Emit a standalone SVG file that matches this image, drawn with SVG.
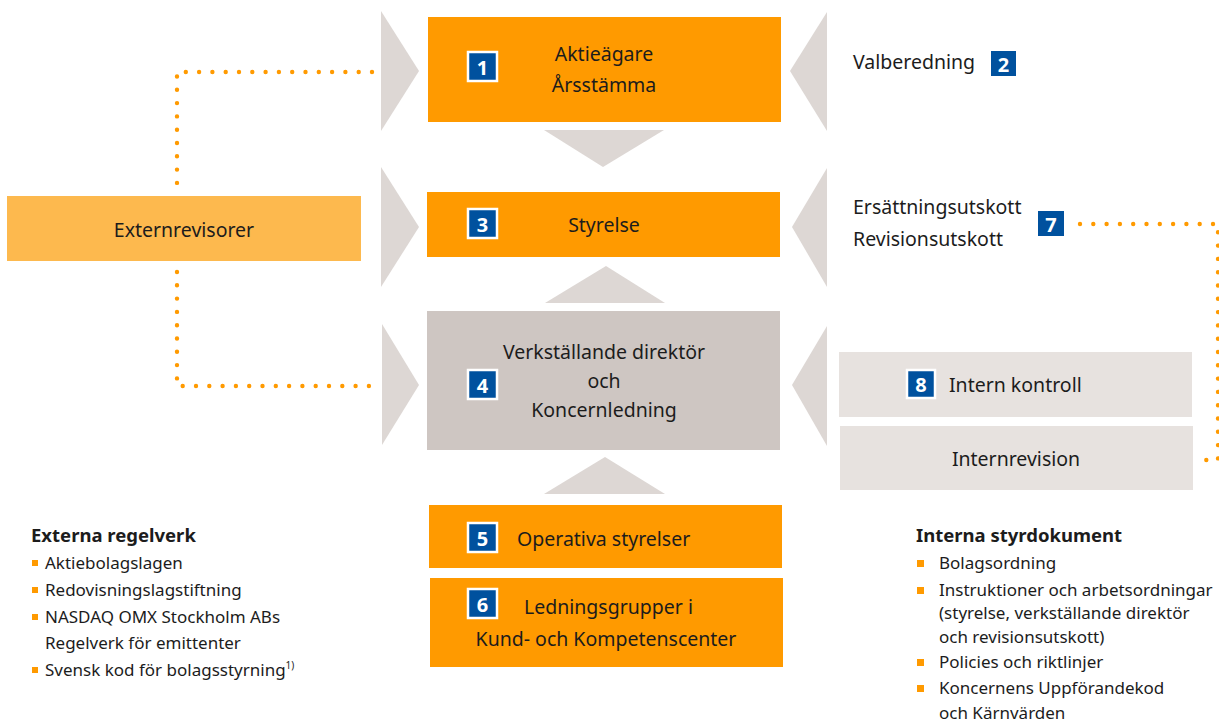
<svg xmlns="http://www.w3.org/2000/svg" width="1219" height="722" viewBox="0 0 1219 722">
<style>
.t{font-family:"Noto Sans","Liberation Sans",sans-serif;font-size:19.5px;fill:#1c1c1c}
.c{text-anchor:middle}
.h{font-family:"Noto Sans","Liberation Sans",sans-serif;font-size:18.5px;font-weight:bold;fill:#1c1c1c}
.l{font-family:"Noto Sans","Liberation Sans",sans-serif;font-size:17px;fill:#1c1c1c}
.or{fill:#FF9A00}
.tri{fill:#DDD7D4}
.lg{fill:#E7E2DF}
.bd{fill:#00519E;stroke:#fff;stroke-width:2.5}
.bn{font-family:"Noto Sans","Liberation Sans",sans-serif;font-size:20px;font-weight:bold;fill:#fff;text-anchor:middle}
.dot{fill:none;stroke:#FF9A00;stroke-width:4.4;stroke-linecap:round;stroke-dasharray:0 13.3}
.bul{fill:#FF9A00}
</style>
<g id="connectors">
<polygon class="tri" points="381,11 419,71 381,131"/>
<polygon class="tri" points="381,167 419,227 381,287"/>
<polygon class="tri" points="382,324 419,385 382,445"/>
<polygon class="tri" points="827,12 790,71 827,131"/>
<polygon class="tri" points="827,168 792,227 827,287"/>
<polygon class="tri" points="827,326 792,385 827,446"/>
<polygon class="tri" points="544,130 664,130 603,167"/>
<polygon class="tri" points="545,303 665,303 606,266"/>
<polygon class="tri" points="544,494 665,494 605,457"/>
<path class="dot" d="M372,72 H177 V192"/>
<path class="dot" d="M177,272 V386 H372"/>
<path class="dot" d="M1080,224 H1218 V460 H1197"/>
</g>
<g id="n1">
<rect class="or" x="428" y="17" width="353" height="105"/>
<rect class="bd" x="468" y="52" width="29" height="29"/>
<text class="bn" x="482.5" y="75">1</text>
<text class="t c" x="604" y="61">Aktieägare</text>
<text class="t c" x="604" y="92">Årsstämma</text>
</g>
<g id="n2">
<text class="t" x="853" y="69">Valberedning</text>
<rect fill="#00519E" x="991" y="51" width="25" height="25"/>
<text class="bn" x="1003.5" y="72">2</text>
</g>
<g id="n3">
<rect class="or" x="427" y="192" width="353" height="65"/>
<rect class="bd" x="468" y="209" width="29" height="29"/>
<text class="bn" x="482.5" y="232">3</text>
<text class="t c" x="604" y="232">Styrelse</text>
</g>
<g id="n4">
<rect fill="#CEC6C2" x="427" y="311" width="353" height="139"/>
<rect class="bd" x="468" y="370" width="29" height="29"/>
<text class="bn" x="482.5" y="393">4</text>
<text class="t c" x="604" y="359">Verkställande direktör</text>
<text class="t c" x="604" y="388">och</text>
<text class="t c" x="604" y="417">Koncernledning</text>
</g>
<g id="n5">
<rect class="or" x="429" y="505" width="353" height="63"/>
<rect class="bd" x="468" y="523" width="29" height="29"/>
<text class="bn" x="482.5" y="546">5</text>
<text class="t" x="517" y="546">Operativa styrelser</text>
</g>
<g id="n6">
<rect class="or" x="430" y="578" width="353" height="89"/>
<rect class="bd" x="468" y="589" width="29" height="29"/>
<text class="bn" x="482.5" y="612">6</text>
<text class="t" x="524" y="614">Ledningsgrupper i</text>
<text class="t c" x="606" y="646">Kund- och Kompetenscenter</text>
</g>
<g id="n7">
<text class="t" x="853" y="214">Ersättningsutskott</text>
<text class="t" x="853" y="246">Revisionsutskott</text>
<rect fill="#00519E" x="1038" y="211" width="26" height="25"/>
<text class="bn" x="1051" y="232">7</text>
</g>
<g id="n8">
<rect class="lg" x="839" y="352" width="353" height="65"/>
<rect class="bd" x="907" y="370" width="28" height="28"/>
<text class="bn" x="921" y="392">8</text>
<text class="t" x="949" y="392">Intern kontroll</text>
</g>
<g id="internrevision">
<rect class="lg" x="840" y="426" width="353" height="64"/>
<text class="t c" x="1016" y="466">Internrevision</text>
</g>
<g id="externrevisorer">
<rect fill="#FDB94E" x="7" y="196" width="354" height="65"/>
<text class="t c" x="184" y="237">Externrevisorer</text>
</g>
<g id="externa">
<text class="h" x="31" y="542">Externa regelverk</text>
<rect class="bul" x="32" y="560" width="6" height="6"/>
<text class="l" x="45" y="569">Aktiebolagslagen</text>
<rect class="bul" x="32" y="587" width="6" height="6"/>
<text class="l" x="45" y="596">Redovisningslagstiftning</text>
<rect class="bul" x="32" y="614" width="6" height="6"/>
<text class="l" x="45" y="623">NASDAQ OMX Stockholm ABs</text>
<text class="l" x="45" y="649">Regelverk för emittenter</text>
<rect class="bul" x="32" y="667" width="6" height="6"/>
<text class="l" x="45" y="676">Svensk kod för bolagsstyrning<tspan font-size="10" dy="-7">1)</tspan></text>
</g>
<g id="interna">
<text class="h" x="916" y="542">Interna styrdokument</text>
<rect class="bul" x="917" y="560" width="7" height="7"/>
<text class="l" x="939" y="569">Bolagsordning</text>
<rect class="bul" x="917" y="587" width="7" height="7"/>
<text class="l" x="939" y="596">Instruktioner och arbetsordningar</text>
<text class="l" x="939" y="619">(styrelse, verkställande direktör</text>
<text class="l" x="939" y="643">och revisionsutskott)</text>
<rect class="bul" x="917" y="659" width="7" height="7"/>
<text class="l" x="939" y="668">Policies och riktlinjer</text>
<rect class="bul" x="917" y="685" width="7" height="7"/>
<text class="l" x="939" y="694">Koncernens Uppförandekod</text>
<text class="l" x="939" y="719">och Kärnvärden</text>
</g>
</svg>
